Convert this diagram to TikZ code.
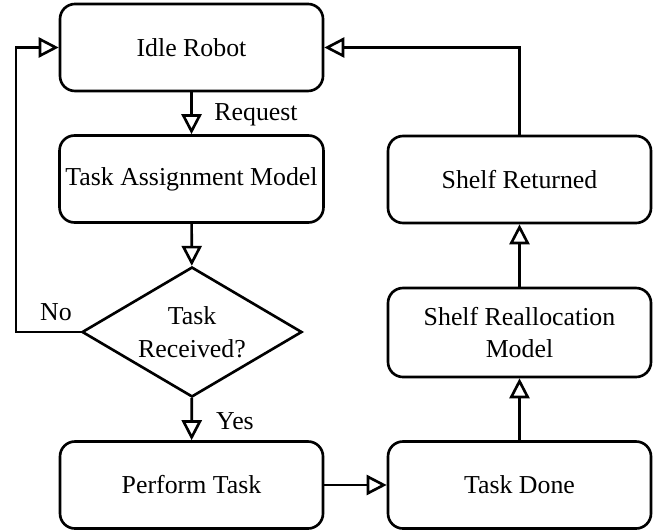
\documentclass[tikz,border=0pt]{standalone}
\usepackage{fontspec}
\setmainfont{Liberation Serif}
\usetikzlibrary{arrows.meta,shapes.geometric}

\begin{document}
\begin{tikzpicture}[line width=1.5pt,
    every node/.style={font=\fontsize{14.7}{18.5}\selectfont},
    box/.style={draw, rounded corners=0.3cm, minimum width=5.26cm,
      minimum height=1.74cm, align=center},
    decision/.style={draw, diamond, aspect=1.7, inner sep=0pt,
      minimum width=4.4cm, minimum height=2.6cm, align=center},
    flow/.style={-{Triangle[open,length=0.4cm,width=0.4cm]}}]
  \useasboundingbox (0,0) rectangle (13.34,-10.6);

  % left column
  \node[box] (idle) at (3.83,-0.95) {Idle Robot};
  \node[box] (assign) at (3.83,-3.58) {Task Assignment Model};
  \node[decision] (dec) at (3.84,-6.64) {Task\\Received?};
  \node[box] (perform) at (3.83,-9.7) {Perform Task};

  % right column
  \node[box] (done) at (10.39,-9.7) {Task Done};
  \node[box, minimum height=1.78cm] (realloc) at (10.39,-6.65) {Shelf Reallocation\\Model};
  \node[box] (returned) at (10.39,-3.59) {Shelf Returned};

  % labels
  \node (lreq) at (5.12,-2.3) {Request};
  \node (lyes) at (4.7,-8.42) {Yes};
  \node (lno) at (1.12,-6.24) {No};

  \coordinate (loop) at (0.32,-6.64);

  \draw[flow] (idle) -- (assign);
  \draw[flow] (assign) -- (dec);
  \draw[flow] (dec) -- (perform);
  \draw[flow] (dec.west) -- (loop) |- (idle.west);
  \draw[flow] (perform) -- (done);
  \draw[flow] (done) -- (realloc);
  \draw[flow] (realloc) -- (returned);
  \draw[flow] (returned.north) |- (idle.east);
\end{tikzpicture}
\end{document}
